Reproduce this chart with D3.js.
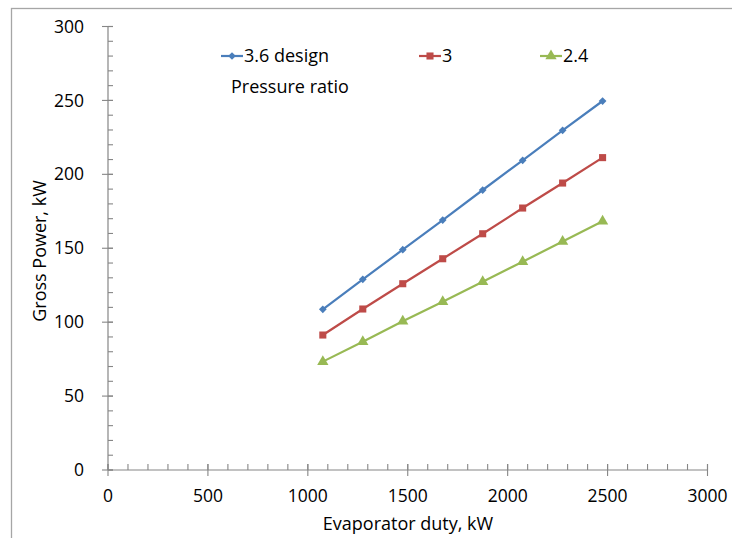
<!DOCTYPE html>
<html><head><meta charset="utf-8">
<script src="https://cdn.jsdelivr.net/npm/d3@7"></script>
<style>
html,body{margin:0;padding:0;background:#fff;}
svg{display:block;}
text{font-family:"Open Sans",sans-serif;fill:#000;}
</style></head>
<body>
<svg id="chart" width="732" height="538"></svg>
<script>
const evaporatorDuty = [1075, 1275, 1475, 1675, 1875, 2075, 2275, 2475];
const power36 = [108.7, 129.0, 149.0, 169.1, 189.4, 209.5, 229.8, 249.6];
const power30 = [91.3, 108.9, 126.0, 142.9, 159.8, 177.2, 194.1, 211.3];
const power24 = [73.3, 86.8, 100.6, 113.8, 127.4, 140.9, 154.5, 168.2];
const seriesNames = ["3.6 design", "3", "2.4"];
const xTicks = [0, 500, 1000, 1500, 2000, 2500, 3000];
const yTicks = [0, 50, 100, 150, 200, 250, 300];

const colors = ["#4a7ebb", "#be4b48", "#98b954"];
const symbols = [d3.symbolSquare, d3.symbolSquare, d3.symbolTriangle];
const symSizes = [30, 50, 55];
const symRot = [45, 0, 0];

const svg = d3.select("#chart");
svg.append("rect").attr("x", 11.5).attr("y", 8.5).attr("width", 760).attr("height", 560)
  .attr("fill", "none").attr("stroke", "#a6a6a6").attr("stroke-width", 1.3);

const x = d3.scaleLinear().domain([0, 3000]).range([108, 707.5]);
const y = d3.scaleLinear().domain([0, 300]).range([470, 26.5]);
const axisColor = "#868686";
const fs = 18, fsNum = 17.5;

const gx = svg.append("g").attr("transform", "translate(0,470)");
gx.append("line").attr("x1", x(0)).attr("x2", x(3000)).attr("stroke", axisColor).attr("stroke-width", 1.2);
gx.selectAll(".minor").data(d3.range(0, 3001, 100)).join("line")
  .attr("x1", d => x(d)).attr("x2", d => x(d)).attr("y1", 0).attr("y2", -6)
  .attr("stroke", axisColor).attr("stroke-width", 1.1);
gx.selectAll(".major").data(xTicks).join("line")
  .attr("x1", d => x(d)).attr("x2", d => x(d)).attr("y1", -6).attr("y2", 6)
  .attr("stroke", axisColor).attr("stroke-width", 1.1);
gx.selectAll("text").data(xTicks).join("text")
  .attr("x", d => x(d)).attr("y", 32).attr("text-anchor", "middle")
  .attr("font-size", fsNum).text(d => d);

const gy = svg.append("g").attr("transform", "translate(108,0)");
gy.append("line").attr("y1", y(0)).attr("y2", y(300)).attr("stroke", axisColor).attr("stroke-width", 1.2);
gy.selectAll(".minor").data(d3.range(0, 301, 10)).join("line")
  .attr("y1", d => y(d)).attr("y2", d => y(d)).attr("x1", 0).attr("x2", 5)
  .attr("stroke", axisColor).attr("stroke-width", 1.1);
gy.selectAll(".major").data(yTicks).join("line")
  .attr("y1", d => y(d)).attr("y2", d => y(d)).attr("x1", -6).attr("x2", 5)
  .attr("stroke", axisColor).attr("stroke-width", 1.1);
gy.selectAll("text").data(yTicks).join("text")
  .attr("x", -24).attr("y", d => y(d)).attr("dy", "0.35em").attr("text-anchor", "end")
  .attr("font-size", fsNum).text(d => d);

svg.append("text").attr("x", 408).attr("y", 530).attr("text-anchor", "middle")
  .attr("font-size", fs).text("Evaporator duty, kW");
svg.append("text").attr("transform", "translate(46,251) rotate(-90)").attr("text-anchor", "middle")
  .attr("font-size", fs).text("Gross Power, kW");

const allSeries = [power36, power30, power24];
const line = d3.line().x((d, i) => x(evaporatorDuty[i])).y(d => y(d));
allSeries.forEach((vals, s) => {
  svg.append("path").datum(vals).attr("d", line).attr("fill", "none")
    .attr("stroke", colors[s]).attr("stroke-width", 2.2);
  svg.append("g").selectAll("path").data(vals).join("path")
    .attr("transform", (d, i) => `translate(${x(evaporatorDuty[i])},${y(d)}) rotate(${symRot[s]})`)
    .attr("d", d3.symbol().type(symbols[s]).size(symSizes[s]))
    .attr("fill", colors[s]);
});

const legendX = [221, 419, 540];
seriesNames.forEach((name, s) => {
  const g = svg.append("g").attr("transform", `translate(${legendX[s]},56)`);
  g.append("line").attr("x1", 0).attr("x2", 22).attr("stroke", colors[s]).attr("stroke-width", 2.2);
  g.append("path").attr("transform", `translate(11,0) rotate(${symRot[s]})`)
    .attr("d", d3.symbol().type(symbols[s]).size(symSizes[s])).attr("fill", colors[s]);
  g.append("text").attr("x", 23).attr("dy", "0.35em").attr("font-size", fs).text(name);
});
svg.append("text").attr("x", 231).attr("y", 87).attr("dy", "0.35em").attr("font-size", fs).text("Pressure ratio");
</script>
</body></html>
